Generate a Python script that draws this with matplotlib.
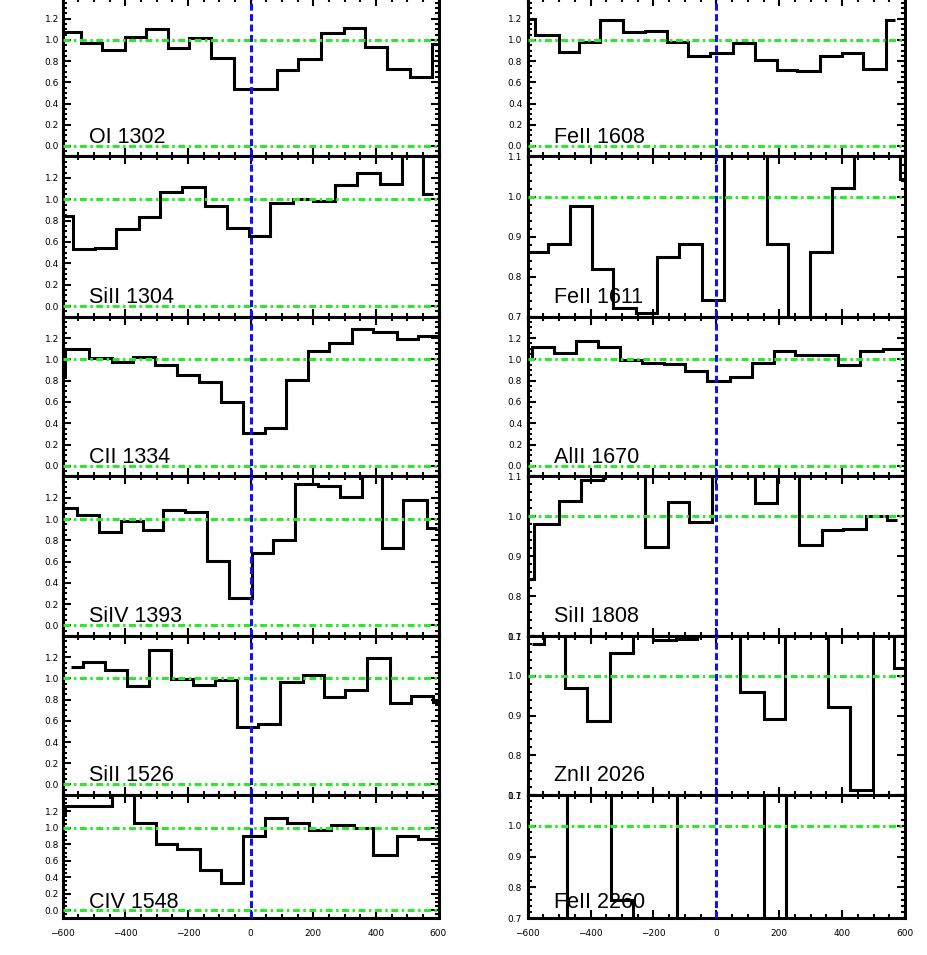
import matplotlib
matplotlib.use("Agg")
import matplotlib.pyplot as plt
from matplotlib.ticker import MultipleLocator, FixedLocator, FormatStrFormatter

plt.rcParams['font.family'] = ['Liberation Sans', 'DejaVu Sans']
plt.rcParams['lines.scale_dashes'] = False

# velocity bin edges (km/s) and normalised flux for each line
# left column
oi1302_v = [-600, -541, -474, -402, -333, -262, -195, -125, -54, 84, 153, 224, 297, 366, 437, 510, 579, 600]
oi1302_f = [1.075, 0.97, 0.91, 1.025, 1.10, 0.92, 1.016, 0.83, 0.535, 0.717, 0.82, 1.066, 1.113, 0.937, 0.723, 0.654, 0.965]

sii1304_v = [-600, -565, -496, -429, -357, -288, -219, -145, -75, -6, 63, 137, 201, 270, 339, 412, 483, 552, 584]
sii1304_f = [0.84, 0.53, 0.54, 0.72, 0.83, 1.066, 1.116, 0.94, 0.73, 0.66, 0.96, 1.0, 0.98, 1.134, 1.25, 1.14, 1.6, 1.047]

cii1334_v = [-600, -591, -514, -443, -375, -304, -235, -163, -95, -24, 47, 114, 183, 252, 323, 392, 467, 533, 600]
cii1334_f = [0.83, 1.10, 1.016, 0.975, 1.02, 0.944, 0.856, 0.787, 0.599, 0.31, 0.354, 0.81, 1.078, 1.157, 1.28, 1.257, 1.188, 1.216]

siiv1393_v = [-600, -554, -485, -414, -344, -278, -208, -139, -68, 4, 73, 142, 214, 286, 355, 419, 488, 563, 595]
siiv1393_f = [1.10, 1.034, 0.878, 0.978, 0.894, 1.084, 1.066, 0.61, 0.26, 0.68, 0.80, 1.33, 1.306, 1.206, 1.55, 0.728, 1.175, 0.916]

sii1526_v = [-573, -535, -464, -395, -323, -253, -184, -113, -44, 25, 95, 167, 233, 302, 373, 444, 513, 582, 600]
sii1526_f = [1.107, 1.157, 1.082, 0.928, 1.267, 0.997, 0.934, 0.987, 0.541, 0.566, 0.969, 1.03, 0.82, 0.89, 1.19, 0.764, 0.833, 0.78]

civ1548_v = [-600, -591, -442, -373, -301, -235, -161, -94, -25, 47, 116, 188, 257, 329, 392, 467, 536, 600]
civ1548_f = [1.17, 1.262, 1.6, 1.065, 0.806, 0.746, 0.492, 0.335, 0.907, 1.121, 1.065, 0.98, 1.03, 1.0, 0.673, 0.907, 0.859]

# right column
feii1608_v = [-600, -577, -502, -436, -370, -296, -227, -158, -89, -20, 54, 123, 192, 255, 330, 399, 467, 540, 568]
feii1608_f = [1.198, 1.05, 0.89, 0.978, 1.189, 1.072, 1.085, 0.98, 0.852, 0.88, 0.975, 0.811, 0.717, 0.708, 0.849, 0.88, 0.726, 1.189]

feii1611_v = [-600, -534, -465, -396, -328, -256, -190, -118, -47, 24, 160, 229, 298, 367, 438, 584, 600]
feii1611_f = [0.861, 0.882, 0.976, 0.819, 0.722, 0.709, 0.848, 0.882, 0.742, 1.25, 0.882, 0.6, 0.861, 1.021, 1.2, 1.044]

alii1670_v = [-600, -587, -515, -446, -378, -306, -237, -168, -100, -29, 43, 112, 183, 250, 324, 388, 457, 529, 600]
alii1670_f = [1.0, 1.116, 1.06, 1.176, 1.116, 0.994, 0.969, 0.959, 0.893, 0.796, 0.83, 0.969, 1.078, 1.038, 1.038, 0.95, 1.078, 1.097]

sii1808_v = [-600, -579, -502, -431, -359, -227, -155, -86, -15, 123, 194, 264, 335, 404, 476, 542, 573]
sii1808_f = [0.843, 0.982, 1.038, 1.092, 1.25, 0.922, 1.037, 0.987, 1.25, 1.034, 1.25, 0.929, 0.966, 0.968, 1.0, 0.992]

znii2026_v = [-587, -548, -481, -412, -338, -266, -200, -128, -60, 75, 150, 218, 356, 425, 497, 566, 600]
znii2026_f = [1.079, 1.25, 0.97, 0.885, 1.056, 1.25, 1.09, 1.092, 1.25, 0.96, 0.892, 1.25, 0.922, 0.713, 1.25, 1.02]

feii2260_v = [-600, -474, -335, -264, -124, 153, 222, 600]
feii2260_f = [0.5, 1.3, 0.76, 0.5, 1.3, 0.5, 1.3]

left_panels = [("OI 1302", oi1302_v, oi1302_f, "wide"),
               ("SiII 1304", sii1304_v, sii1304_f, "wide"),
               ("CII 1334", cii1334_v, cii1334_f, "wide"),
               ("SiIV 1393", siiv1393_v, siiv1393_f, "wide"),
               ("SiII 1526", sii1526_v, sii1526_f, "wide"),
               ("CIV 1548", civ1548_v, civ1548_f, "wide")]
right_panels = [("FeII 1608", feii1608_v, feii1608_f, "wide"),
                ("FeII 1611", feii1611_v, feii1611_f, "narrow"),
                ("AlII 1670", alii1670_v, alii1670_f, "wide"),
                ("SiII 1808", sii1808_v, sii1808_f, "narrow"),
                ("ZnII 2026", znii2026_v, znii2026_f, "narrow"),
                ("FeII 2260", feii2260_v, feii2260_f, "narrow")]

W, H = 927, 955
fig = plt.figure(figsize=(W / 100, H / 100), dpi=100)

# panel edges in pixels (top, bottom) and column x-extent
row_px = [(-2.4, 156.5), (156.5, 316.7), (316.7, 476.5), (476.5, 636), (636, 795), (795, 918.3)]
col_px = [(62.5, 438.5), (527.7, 905.0)]

LW = 2.2
for ci, panels in enumerate([left_panels, right_panels]):
    x0, x1 = col_px[ci]
    for ri, (name, v, f, kind) in enumerate(panels):
        t, b = row_px[ri]
        ax = fig.add_axes([x0 / W, 1 - b / H, (x1 - x0) / W, (b - t) / H])
        ax.stairs(f, v, baseline=None, color='k', lw=LW, joinstyle='miter', zorder=2)
        ax.set_xlim(-600, 600)
        if kind == "wide":
            ax.set_ylim(-0.1, 1.4)
            ax.yaxis.set_major_locator(FixedLocator([0.0, 0.2, 0.4, 0.6, 0.8, 1.0, 1.2]))
            ax.yaxis.set_minor_locator(MultipleLocator(0.05))
            ax.axhline(0.0, color='#2ee82e', lw=LW, dashes=(5.0, 2.5, 1.8, 2.5), zorder=3)
        else:
            ax.set_ylim(0.7, 1.1)
            ax.yaxis.set_major_locator(FixedLocator([0.7, 0.8, 0.9, 1.0, 1.1]))
            ax.yaxis.set_minor_locator(MultipleLocator(0.02))
        ax.axhline(1.0, color='#2ee82e', lw=LW, dashes=(5.0, 2.5, 1.8, 2.5), zorder=3)
        ax.axvline(0.0, color='#1212ee', lw=LW, dashes=(5.0, 2.5), zorder=4)
        ax.yaxis.set_major_formatter(FormatStrFormatter('%.1f'))
        ax.xaxis.set_major_locator(MultipleLocator(200))
        ax.xaxis.set_minor_locator(MultipleLocator(50))
        ax.tick_params(which='both', direction='in', top=True, right=True, width=1.5)
        ax.tick_params(which='major', length=6)
        ax.tick_params(which='minor', length=3)
        ax.tick_params(axis='y', labelsize=6.5, pad=2.5 if ci == 0 else 4)
        ax.tick_params(axis='x', labelsize=6.5, pad=8)
        for lab in ax.get_xticklabels() + ax.get_yticklabels():
            lab.set_family('DejaVu Sans')
        if ri < 5:
            ax.tick_params(axis='x', labelbottom=False)
        for s in ax.spines.values():
            s.set_linewidth(LW)
        ax.text(0.07, 0.085, name, transform=ax.transAxes, fontsize=15.5,
                va='baseline', ha='left', zorder=5)

fig.savefig("out.png", dpi=100)
